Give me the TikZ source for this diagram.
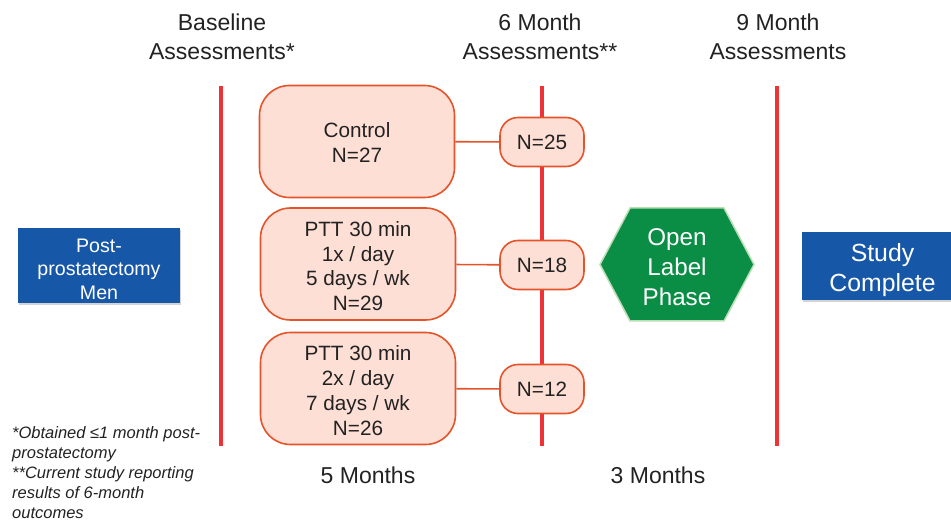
\documentclass[tikz,border=0pt]{standalone}
\usepackage{fontspec}
\setmainfont{Liberation Sans}
\usepackage{tikz}
\usetikzlibrary{positioning,shapes,shapes.symbols,shadows,calc}
\definecolor{tred}{HTML}{EE3236}
\definecolor{gline}{HTML}{E4532A}
\definecolor{gfill}{HTML}{FDDFD5}
\definecolor{bbox}{HTML}{1757A8}
\definecolor{hgreen}{HTML}{0A8E45}
\definecolor{hrim}{HTML}{BBDDB6}
\definecolor{txt}{HTML}{222222}

\begin{document}
\begin{tikzpicture}[x=1pt,y=-1pt,
  tline/.style={tred,line width=4.7pt},
  link/.style={gline,line width=1.6pt},
  grp/.style={draw=gline,fill=gfill,line width=1.6pt,rounded corners=30pt,minimum width=195pt,minimum height=112pt,align=center,text=txt,font=\fontsize{20.7}{24.8}\selectfont},
  nbox/.style={draw=gline,fill=gfill,line width=1.6pt,rounded corners=18pt,minimum width=84pt,minimum height=49pt,text=txt,font=\fontsize{20.7}{24.8}\selectfont},
  bluebox/.style={fill=bbox,text=white,align=center,minimum width=162pt,drop shadow={opacity=.35,shadow xshift=1pt,shadow yshift=-2pt}},
  hexa/.style={signal,signal to=east and west,signal pointer angle=124,draw=hrim,fill=hgreen,line width=1.5pt,text=white,align=center,minimum width=154pt,minimum height=113pt,inner sep=0pt,font=\fontsize{24.2}{30}\selectfont},
  hdr/.style={align=center,text=txt,font=\fontsize{23}{28.6}\selectfont}]
\useasboundingbox (0,0) rectangle (951,521);
% time lines
\coordinate (bt) at (221,86); \coordinate (bb) at (221,446);
\coordinate (st) at (542,86); \coordinate (sb) at (542,446);
\coordinate (nt) at (777,86); \coordinate (nb) at (777,446);
\draw[tline] (bt) -- (bb); \draw[tline] (st) -- (sb); \draw[tline] (nt) -- (nb);
% headers
\node[hdr] (hbase) at (222,36.6) {Baseline\\Assessments*};
\node[hdr] (hsix) at (540,36.6) {6 Month\\Assessments**};
\node[hdr] (hnine) at (778,36.6) {9 Month\\Assessments};
% groups
\node[grp,text height=42pt] (ctl) at (357,141.5) {Control\\N=27};
\node[grp,text height=93.5pt] (ptta) at (358,264) {PTT 30 min\\1x / day\\5 days / wk\\N=29};
\node[grp,text height=93.5pt] (pttb) at (358,388.5) {PTT 30 min\\2x / day\\7 days / wk\\N=26};
\node[nbox] (nctl) at (542,142) {N=25};
\node[nbox] (nptta) at (542,265) {N=18};
\node[nbox] (npttb) at (542,389) {N=12};
\draw[link] (ctl) -- (nctl); \draw[link] (ptta) -- (nptta); \draw[link] (pttb) -- (npttb);
% ends
\node[bluebox,minimum height=75pt,text height=67pt,font=\fontsize{19.6}{23.3}\selectfont] (men) at (99,265.8) {Post-\\prostatectomy\\Men};
\node[bluebox,minimum height=68pt,text height=56pt,font=\fontsize{24.8}{30}\selectfont] (done) at (882.5,266) {Study\\Complete};
\node[hexa,text height=81.5pt] (olp) at (677,264.5) {Open\\Label\\Phase};
% spans
\node[text=txt,font=\fontsize{23}{28}\selectfont,anchor=base] (fivem) at (368,483) {5 Months};
\node[text=txt,font=\fontsize{23}{28}\selectfont,anchor=base] (threem) at (658,483) {3 Months};
% notes
\node[anchor=north west,inner sep=0pt,align=left,text=txt,font=\fontsize{16.5}{20}\selectfont\itshape] (notes) at (12,426)
  {*Obtained ≤1 month post-\\prostatectomy\\**Current study reporting\\results of 6-month\\outcomes};
\end{tikzpicture}
\end{document}
